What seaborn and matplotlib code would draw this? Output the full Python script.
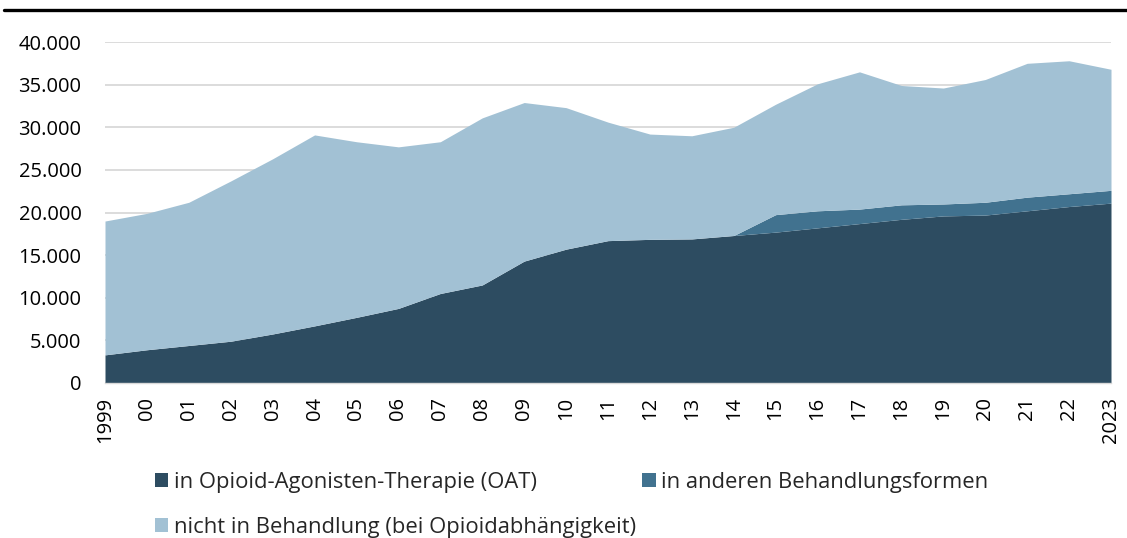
import matplotlib
matplotlib.use("Agg")
import matplotlib.pyplot as plt
from matplotlib.lines import Line2D
from matplotlib.patches import Patch
from matplotlib.ticker import FuncFormatter, MultipleLocator
import seaborn as sns
import numpy as np

years = list(range(1999, 2024))
tick_labels = ["1999"] + [f"{y % 100:02d}" for y in range(2000, 2023)] + ["2023"]

oat = [3300, 3900, 4400, 4900, 5750, 6700, 7700, 8750, 10500, 11500,
       14300, 15700, 16700, 16850, 16900, 17300, 17700, 18200, 18700, 19200,
       19600, 19700, 20200, 20700, 21100]
other = [0, 0, 0, 0, 0, 0, 0, 0, 0, 0,
         0, 0, 0, 0, 0, 0, 2050, 2000, 1700, 1700,
         1400, 1500, 1600, 1500, 1500]
not_treated = [15700, 16000, 16800, 18800, 20550, 22400, 20600, 18950, 17800, 19600,
               18600, 16600, 13900, 12350, 12100, 12700, 12950, 14900, 16100, 14000,
               13600, 14400, 15700, 15600, 14200]

series_names = ["in Opioid-Agonisten-Therapie (OAT)",
                "in anderen Behandlungsformen",
                "nicht in Behandlung (bei Opioidabhängigkeit)"]
colors = ["#2D4C61", "#41728F", "#A2C1D4"]

sns.set_theme(style="white")
plt.rcParams['font.family'] = ['Open Sans', 'DejaVu Sans']

fig = plt.figure(figsize=(11.27, 5.38), dpi=100)
ax = fig.add_axes([105/1127, 1 - 383/538, (1111 - 105)/1127, (383 - 42)/538])

ax.stackplot(years, oat, other, not_treated, colors=colors, linewidth=0, zorder=2)

ax.set_xlim(1999, 2023)
ax.set_ylim(0, 40000)
ax.yaxis.set_major_locator(MultipleLocator(5000))
ax.yaxis.set_major_formatter(FuncFormatter(lambda v, p: f"{int(v):,}".replace(",", ".")))
ax.set_xticks(years)
ax.set_xticklabels(tick_labels, rotation=90)
ax.tick_params(axis='both', length=0, labelsize=14.5, colors="#000000")
ax.tick_params(axis='x', pad=10)
ax.tick_params(axis='y', pad=17)
ax.grid(axis='y', color="#D9D9D9", linewidth=1.3, zorder=0)
ax.set_axisbelow(True)
for s in ["top", "right", "left"]:
    ax.spines[s].set_visible(False)
ax.spines["bottom"].set_color("#D9D9D9")
ax.spines["bottom"].set_linewidth(1.0)

fig.add_artist(Line2D([4/1127, 1.0], [1 - 9.5/538, 1 - 9.5/538], color="black", linewidth=2.4))

# column-major fill: OAT, nicht in Behandlung | andere
order = [0, 2, 1]
handles = [Patch(facecolor=colors[i], edgecolor='none') for i in order]
labels = [series_names[i] for i in order]
fig.legend(handles, labels, loc="upper left", bbox_to_anchor=(155/1127, 1 - 472/538),
           ncol=2, frameon=False, fontsize=15.8, handlelength=0.6, handleheight=0.6,
           handletextpad=0.25, columnspacing=0.3, labelspacing=1.1, borderaxespad=0, borderpad=0)

fig.savefig("out.png", dpi=100)
